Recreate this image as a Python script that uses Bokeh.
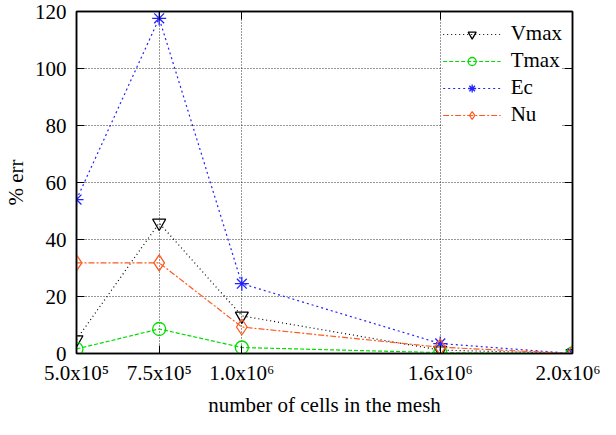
from bokeh.plotting import figure
from bokeh.models import (Range1d, FixedTicker, LinearAxis, Legend, LegendItem)
from bokeh.embed import file_html
from bokeh.resources import INLINE

cells = [5.0e5, 7.5e5, 1.0e6, 1.6e6, 2.0e6]
x_tick_labels = ["5.0x10\u2075", "7.5x10\u2075", "1.0x10\u2076", "1.6x10\u2076", "2.0x10\u2076"]
y_ticks = [0, 20, 40, 60, 80, 100, 120]

vmax = [4.9, 45.8, 13.2, 1.2, 0.0]
tmax = [1.6, 8.6, 2.1, 0.3, 0.0]
ec = [54.0, 117.6, 24.5, 3.5, 0.0]
nu = [31.8, 31.8, 9.3, 2.2, 0.0]

FONT = "Liberation Serif"

p = figure(width=600, height=419, output_backend="svg", toolbar_location=None,
           x_range=Range1d(5.0e5, 2.0e6), y_range=Range1d(0, 120),
           min_border_left=72, min_border_right=28, min_border_top=11, min_border_bottom=64)

p.outline_line_color = "black"
p.outline_line_width = 1.5
p.background_fill_color = "white"

def style_axis(ax, show_labels=True):
    ax.major_tick_in = 8
    ax.major_tick_out = 0
    ax.minor_tick_line_color = None
    ax.axis_line_color = "black"
    ax.axis_line_width = 1.5
    ax.major_tick_line_color = "black"
    ax.major_tick_line_width = 1
    ax.major_label_text_font = FONT
    ax.major_label_text_font_size = "21px"
    ax.major_label_text_color = "black"
    ax.axis_label_text_font = FONT
    ax.axis_label_text_font_size = "21px"
    ax.axis_label_text_font_style = "normal"
    ax.axis_label_text_color = "black"
    if not show_labels:
        ax.major_label_text_alpha = 0
        ax.major_label_text_font_size = "1px"

xt = FixedTicker(ticks=cells)
yt = FixedTicker(ticks=y_ticks)

p.xaxis.ticker = xt
p.yaxis.ticker = yt
p.xaxis.major_label_overrides = {c: l for c, l in zip(cells, x_tick_labels)}
p.xaxis.axis_label = "number of cells in the mesh"
p.yaxis.axis_label = "% err"
style_axis(p.xaxis[0])
style_axis(p.yaxis[0])
p.xaxis.major_label_standoff = 7
p.xaxis.axis_label_standoff = 5
p.yaxis.major_label_standoff = 10
p.yaxis.axis_label_standoff = 4

top = LinearAxis(ticker=FixedTicker(ticks=cells))
style_axis(top, show_labels=False)
top.major_label_standoff = 0
p.add_layout(top, "above")
right = LinearAxis(ticker=FixedTicker(ticks=y_ticks))
style_axis(right, show_labels=False)
right.major_label_standoff = 0
p.add_layout(right, "right")

p.xgrid.ticker = xt
p.ygrid.ticker = yt
for g in (p.xgrid[0], p.ygrid[0]):
    g.grid_line_color = "black"
    g.grid_line_alpha = 0.8
    g.grid_line_dash = "1 2"
    g.grid_line_width = 1

series = [
    ("Vmax", vmax, "black", "1 3", "inverted_triangle", 13),
    ("Tmax", tmax, "#00dd00", "4 2", "circle", 13),
    ("Ec", ec, "#2222ff", "2 3", "asterisk", 14),
    ("Nu", nu, "#ff5a1e", "6 2 2 2", "diamond", 16),
]

items = []
for name, ys, color, dash, marker, size in series:
    lr = p.line(cells, ys, line_color=color, line_dash=dash, line_width=1.2)
    mr = p.scatter(cells, ys, marker=marker, size=size, line_color=color,
                   fill_color=None, line_width=1.3)
    items.append(LegendItem(label=name, renderers=[lr, mr]))

legend = Legend(items=items, location="top_right")
legend.background_fill_color = "white"
legend.background_fill_alpha = 1.0
legend.border_line_color = None
legend.label_text_font = FONT
legend.label_text_font_size = "21px"
legend.label_text_color = "black"
legend.glyph_width = 58
legend.glyph_height = 20
legend.label_height = 20
legend.spacing = 2
legend.padding = 4
legend.margin = 10
legend.label_standoff = 10
p.add_layout(legend, "center")

open("out.html", "w").write(file_html(p, INLINE))
